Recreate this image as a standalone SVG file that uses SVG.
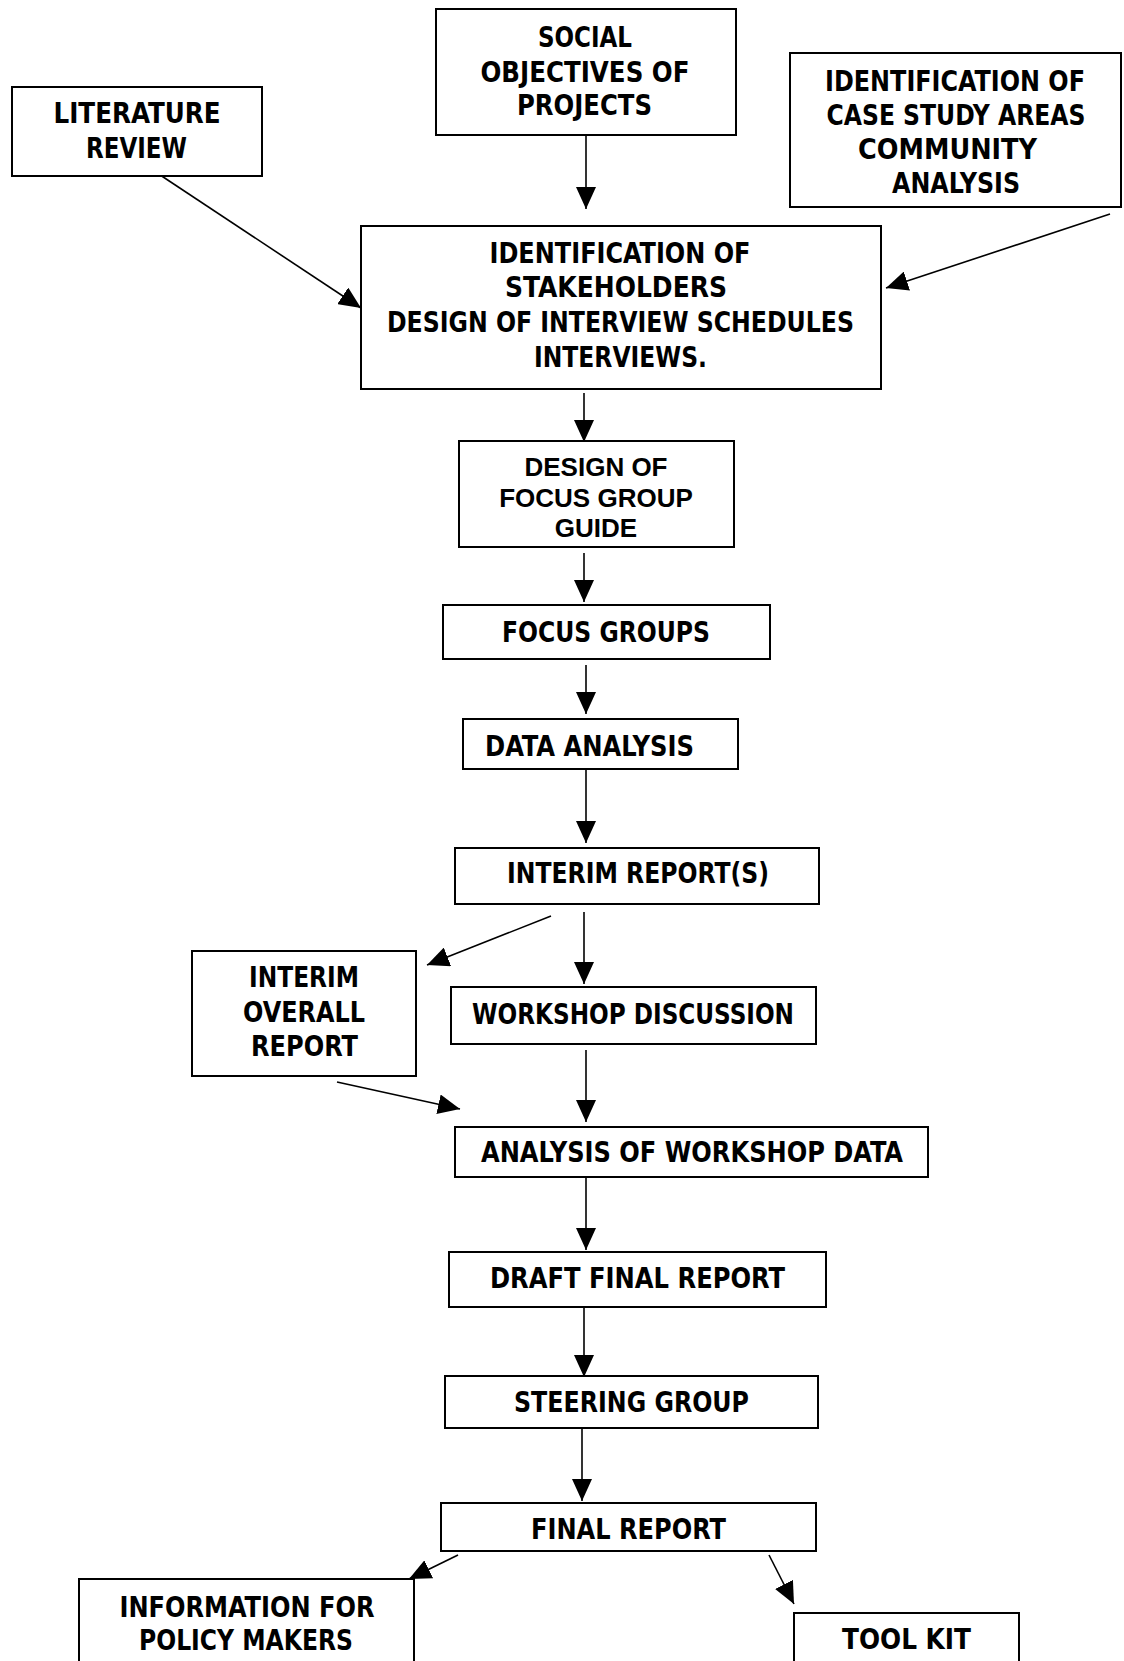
<svg xmlns="http://www.w3.org/2000/svg" width="1124" height="1661" viewBox="0 0 1124 1661">
<style>
.box{fill:#fff;stroke:#000;stroke-width:2}
.t{font-family:"DejaVu Sans Condensed","DejaVu Sans",sans-serif;font-stretch:condensed;font-weight:bold;font-size:29px;text-anchor:middle;fill:#000}
.a{font-family:"Liberation Sans",Arial,sans-serif;font-weight:bold;font-size:26px;text-anchor:middle;fill:#000}
.c{stroke:#000;stroke-width:1.6;fill:none;marker-end:url(#ah)}
</style>
<defs>
<marker id="ah" viewBox="0 0 22 20" refX="22" refY="10" markerWidth="22" markerHeight="20" markerUnits="userSpaceOnUse" orient="auto">
<path d="M0,0 L22,10 L0,20 z" fill="#000"/>
</marker>
</defs>
<rect width="1124" height="1661" fill="#fff"/>
<g id="connectors">
<line class="c" x1="136" y1="159" x2="361" y2="308"/>
<line class="c" x1="586" y1="135" x2="586" y2="209"/>
<line class="c" x1="1110" y1="214" x2="886" y2="288"/>
<line class="c" x1="584" y1="393" x2="584" y2="442"/>
<line class="c" x1="584" y1="553" x2="584" y2="602"/>
<line class="c" x1="586" y1="665" x2="586" y2="714"/>
<line class="c" x1="586" y1="769" x2="586" y2="843"/>
<line class="c" x1="551" y1="916" x2="427" y2="965"/>
<line class="c" x1="584" y1="912" x2="584" y2="984"/>
<line class="c" x1="586" y1="1050" x2="586" y2="1122"/>
<line class="c" x1="337" y1="1082" x2="460" y2="1109"/>
<line class="c" x1="586" y1="1177" x2="586" y2="1250"/>
<line class="c" x1="584" y1="1305" x2="584" y2="1377"/>
<line class="c" x1="582" y1="1428" x2="582" y2="1501"/>
<line class="c" x1="458" y1="1555" x2="409" y2="1579"/>
<line class="c" x1="769" y1="1555" x2="794" y2="1604"/>
</g>
<g id="literature">
<rect class="box" x="12" y="87" width="250" height="89"/>
<text class="t" x="137" y="123" textLength="167" lengthAdjust="spacingAndGlyphs">LITERATURE</text>
<text class="t" x="136.5" y="158" textLength="101" lengthAdjust="spacingAndGlyphs">REVIEW</text>
</g>
<g id="social">
<rect class="box" x="436" y="9" width="300" height="126"/>
<text class="t" x="585" y="47" textLength="94" lengthAdjust="spacingAndGlyphs">SOCIAL</text>
<text class="t" x="585" y="82" textLength="209" lengthAdjust="spacingAndGlyphs">OBJECTIVES OF</text>
<text class="t" x="584.5" y="115" textLength="135" lengthAdjust="spacingAndGlyphs">PROJECTS</text>
</g>
<g id="casestudy">
<rect class="box" x="790" y="53" width="331" height="154"/>
<text class="t" x="955" y="91" textLength="260" lengthAdjust="spacingAndGlyphs">IDENTIFICATION OF</text>
<text class="t" x="956" y="125" textLength="259" lengthAdjust="spacingAndGlyphs">CASE STUDY AREAS</text>
<text class="t" x="947.5" y="159" textLength="179" lengthAdjust="spacingAndGlyphs">COMMUNITY</text>
<text class="t" x="956" y="193" textLength="128" lengthAdjust="spacingAndGlyphs">ANALYSIS</text>
</g>
<g id="stakeholders">
<rect class="box" x="361" y="226" width="520" height="163"/>
<text class="t" x="620" y="263" textLength="261" lengthAdjust="spacingAndGlyphs">IDENTIFICATION OF</text>
<text class="t" x="616" y="297" textLength="222" lengthAdjust="spacingAndGlyphs">STAKEHOLDERS</text>
<text class="t" x="620.5" y="332" textLength="467" lengthAdjust="spacingAndGlyphs">DESIGN OF INTERVIEW SCHEDULES</text>
<text class="t" x="620.5" y="367" textLength="173" lengthAdjust="spacingAndGlyphs">INTERVIEWS.</text>
</g>
<g id="focusguide">
<rect class="box" x="459" y="441" width="275" height="106"/>
<text class="a" x="596" y="476">DESIGN OF</text>
<text class="a" x="596" y="507">FOCUS GROUP</text>
<text class="a" x="596" y="537">GUIDE</text>
</g>
<g id="focusgroups">
<rect class="box" x="443" y="605" width="327" height="54"/>
<text class="t" x="606" y="642" textLength="208" lengthAdjust="spacingAndGlyphs">FOCUS GROUPS</text>
</g>
<g id="dataanalysis">
<rect class="box" x="463" y="719" width="275" height="50"/>
<text class="t" x="589.5" y="756" textLength="209" lengthAdjust="spacingAndGlyphs">DATA ANALYSIS</text>
</g>
<g id="interimreport">
<rect class="box" x="455" y="848" width="364" height="56"/>
<text class="t" x="638" y="883" textLength="262" lengthAdjust="spacingAndGlyphs">INTERIM REPORT(S)</text>
</g>
<g id="interimoverall">
<rect class="box" x="192" y="951" width="224" height="125"/>
<text class="t" x="304" y="987" textLength="110" lengthAdjust="spacingAndGlyphs">INTERIM</text>
<text class="t" x="304" y="1022" textLength="122" lengthAdjust="spacingAndGlyphs">OVERALL</text>
<text class="t" x="304.5" y="1056" textLength="107" lengthAdjust="spacingAndGlyphs">REPORT</text>
</g>
<g id="workshop">
<rect class="box" x="451" y="987" width="365" height="57"/>
<text class="t" x="633" y="1024" textLength="322" lengthAdjust="spacingAndGlyphs">WORKSHOP DISCUSSION</text>
</g>
<g id="analysis">
<rect class="box" x="455" y="1127" width="473" height="50"/>
<text class="t" x="692" y="1162" textLength="422" lengthAdjust="spacingAndGlyphs">ANALYSIS OF WORKSHOP DATA</text>
</g>
<g id="draft">
<rect class="box" x="449" y="1252" width="377" height="55"/>
<text class="t" x="637.5" y="1288" textLength="295" lengthAdjust="spacingAndGlyphs">DRAFT FINAL REPORT</text>
</g>
<g id="steering">
<rect class="box" x="445" y="1376" width="373" height="52"/>
<text class="t" x="631.5" y="1412" textLength="235" lengthAdjust="spacingAndGlyphs">STEERING GROUP</text>
</g>
<g id="final">
<rect class="box" x="441" y="1503" width="375" height="48"/>
<text class="t" x="628.5" y="1539" textLength="195" lengthAdjust="spacingAndGlyphs">FINAL REPORT</text>
</g>
<g id="policy">
<rect class="box" x="79" y="1579" width="335" height="100"/>
<text class="t" x="247" y="1617" textLength="255" lengthAdjust="spacingAndGlyphs">INFORMATION FOR</text>
<text class="t" x="246" y="1650" textLength="214" lengthAdjust="spacingAndGlyphs">POLICY MAKERS</text>
</g>
<g id="toolkit">
<rect class="box" x="794" y="1613" width="225" height="80"/>
<text class="t" x="906.5" y="1649" textLength="129" lengthAdjust="spacingAndGlyphs">TOOL KIT</text>
</g>
</svg>
